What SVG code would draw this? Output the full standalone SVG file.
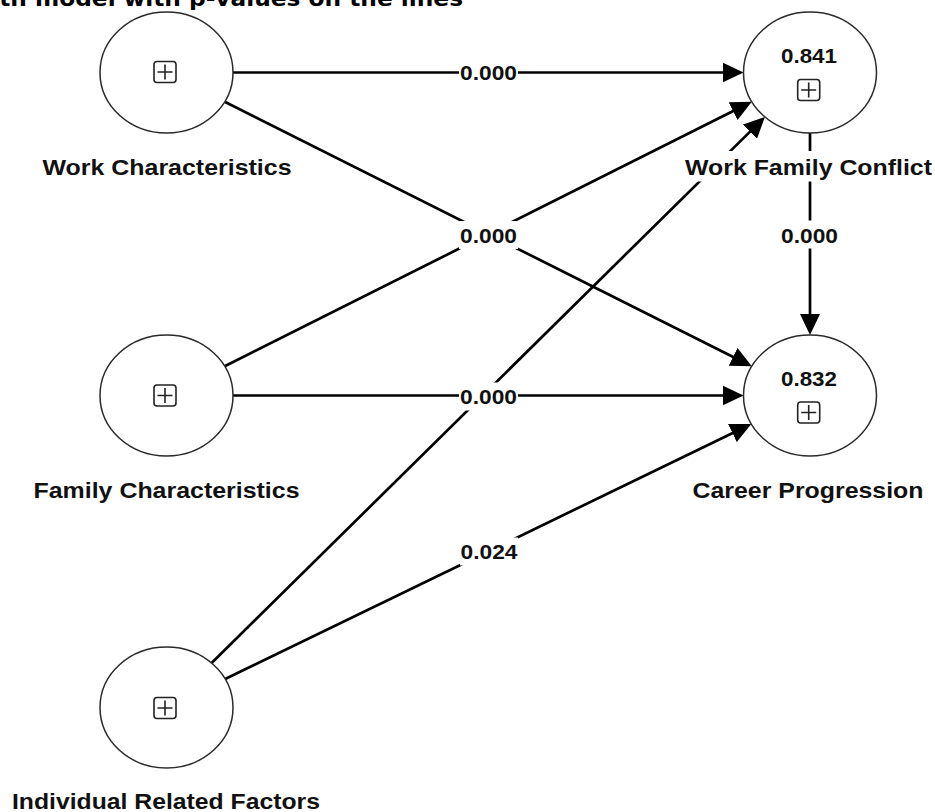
<svg xmlns="http://www.w3.org/2000/svg" xmlns:xlink="http://www.w3.org/1999/xlink" width="935" height="812" viewBox="0 0 935 812">
<style>
.nl{font-family:"Liberation Sans",Arial,sans-serif;font-weight:bold;font-size:22.5px;fill:#111;text-anchor:middle}
.pv{font-family:"Liberation Sans",Arial,sans-serif;font-weight:bold;font-size:21px;fill:#111;text-anchor:middle}
.rv{font-family:"Liberation Sans",Arial,sans-serif;font-weight:bold;font-size:19.5px;fill:#111;text-anchor:middle}
.title{font-family:"DejaVu Sans",Verdana,sans-serif;font-weight:bold;font-size:21px;fill:#000}
.node{fill:#fff;stroke:#2a2a2a;stroke-width:1.5}
.bg{fill:#fff;stroke:none}
.edge{fill:none;stroke:#000;stroke-width:2.7;marker-end:url(#arr)}
</style>
<defs>
<marker id="arr" markerUnits="userSpaceOnUse" markerWidth="21" markerHeight="20" refX="13" refY="10" orient="auto" viewBox="0 0 21 20">
<path d="M0,0 L21,10 L0,20 Z" fill="#000"/>
</marker>
<g id="plusbox">
<rect x="-11" y="-10.5" width="22" height="21" rx="3" fill="#fff" stroke="#222" stroke-width="1.6"/>
<path d="M-7.5,0 H7.5 M0,-7.5 V7.5" stroke="#222" stroke-width="1.6" fill="none"/>
</g>
</defs>
<rect width="935" height="812" fill="#fff"/>
<text class="title" x="-33" y="5.5" textLength="496" lengthAdjust="spacingAndGlyphs">Path model with p-values on the lines</text>

<g id="connectors">
<path class="edge" d="M233,72.5 L735.5,72.5"/>
<path class="edge" d="M224.7,101.7 L744.65,362.71"/>
<path class="edge" d="M224.7,366.3 L744.65,105.29"/>
<path class="edge" d="M233,395.5 L735.5,395.5"/>
<path class="edge" d="M211.6,663 L759.2,122.6"/>
<path class="edge" d="M225.2,679.05 L744.1,427.44"/>
<path class="edge" d="M810,133 L810,327"/>
<rect class="bg" x="459" y="58.5" width="59" height="28"/>
<text class="pv" x="488.5" y="80" textLength="57" lengthAdjust="spacingAndGlyphs">0.000</text>
<rect class="bg" x="459" y="221" width="59" height="28"/>
<text class="pv" x="488.5" y="242.5" textLength="57" lengthAdjust="spacingAndGlyphs">0.000</text>
<rect class="bg" x="459" y="382.5" width="59" height="28"/>
<text class="pv" x="488.5" y="404" textLength="57" lengthAdjust="spacingAndGlyphs">0.000</text>
<rect class="bg" x="460" y="537.5" width="58" height="28"/>
<text class="pv" x="489" y="558.5" textLength="57" lengthAdjust="spacingAndGlyphs">0.024</text>
<rect class="bg" x="780" y="220.5" width="59" height="28"/>
<text class="pv" x="809.5" y="242.5" textLength="57" lengthAdjust="spacingAndGlyphs">0.000</text>
</g>

<g id="work-characteristics">
<ellipse class="node" cx="166.5" cy="72.5" rx="66.5" ry="60.5"/>
<use xlink:href="#plusbox" href="#plusbox" x="165" y="72"/>
<text class="nl" x="167" y="174.5" textLength="249" lengthAdjust="spacingAndGlyphs">Work Characteristics</text>
</g>

<g id="family-characteristics">
<ellipse class="node" cx="166.5" cy="395.5" rx="66.5" ry="60.5"/>
<use xlink:href="#plusbox" href="#plusbox" x="165" y="395.5"/>
<text class="nl" x="166.5" y="497.5" textLength="266" lengthAdjust="spacingAndGlyphs">Family Characteristics</text>
</g>

<g id="individual-related-factors">
<ellipse class="node" cx="166.5" cy="707.5" rx="66.5" ry="60.5"/>
<use xlink:href="#plusbox" href="#plusbox" x="165" y="708"/>
<text class="nl" x="166" y="809" textLength="308" lengthAdjust="spacingAndGlyphs">Individual Related Factors</text>
</g>

<g id="work-family-conflict">
<ellipse class="node" cx="810" cy="72.5" rx="66.5" ry="60.5"/>
<text class="rv" x="809" y="63" textLength="56" lengthAdjust="spacingAndGlyphs">0.841</text>
<use xlink:href="#plusbox" href="#plusbox" x="808.7" y="90"/>
<rect class="bg" x="683" y="151" width="252" height="30.5"/>
<text class="nl" x="808.5" y="175" textLength="247" lengthAdjust="spacingAndGlyphs">Work Family Conflict</text>
</g>

<g id="career-progression">
<ellipse class="node" cx="810" cy="395.5" rx="66.5" ry="60.5"/>
<text class="rv" x="809" y="385.5" textLength="56" lengthAdjust="spacingAndGlyphs">0.832</text>
<use xlink:href="#plusbox" href="#plusbox" x="808.7" y="412.5"/>
<text class="nl" x="808" y="498" textLength="231" lengthAdjust="spacingAndGlyphs">Career Progression</text>
</g>
</svg>
